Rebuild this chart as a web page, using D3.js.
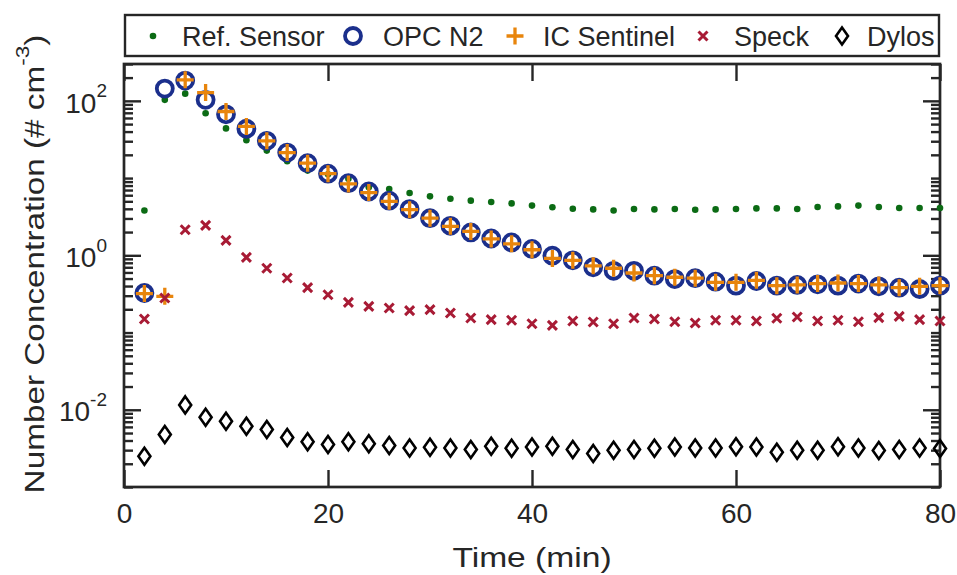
<!DOCTYPE html>
<html>
<head>
<meta charset="utf-8">
<script src="https://cdn.jsdelivr.net/npm/d3@7"></script>
<style>
  body { margin: 0; background: #fff; }
  text { font-family: "Liberation Sans", Arial, sans-serif; fill: #262626; }
</style>
</head>
<body>
<svg id="chart" width="957" height="575"></svg>
<script>
// time of each sample (min)
const times = [2, 4, 6, 8, 10, 12, 14, 16, 18, 20, 22, 24, 26, 28, 30, 32, 34, 36, 38, 40,
               42, 44, 46, 48, 50, 52, 54, 56, 58, 60, 62, 64, 66, 68, 70, 72, 74, 76, 78, 80];

const refSensor = [3.8, 103, 124, 69, 44, 31, 22.7, 16.5, 12.5, 11.2, 9.8, 7.6, 7.2, 6.4, 5.8, 5.4, 5.1, 4.9, 4.7, 4.4,
                   4.2, 4.0, 3.93, 3.81, 3.97, 3.93, 3.97, 3.89, 3.93, 3.97, 4.05, 4.05, 3.97, 4.22, 4.3, 4.4, 4.22, 4.09, 4.09, 4.09];
const opcN2 = [0.325, 144, 183, 103, 67, 43.5, 30.4, 21.4, 15.6, 11.4, 8.6, 6.7, 5.1, 3.97, 3.03, 2.41, 1.98, 1.65, 1.47, 1.21,
               0.99, 0.86, 0.70, 0.63, 0.63, 0.545, 0.493, 0.505, 0.456, 0.405, 0.465, 0.405, 0.413, 0.421, 0.405, 0.43, 0.397, 0.381, 0.366, 0.405];
const icSentinel = [0.32, 0.294, 187, 128, 72.8, 46.6, 30.4, 21.4, 15.6, 11.4, 8.4, 6.5, 5.0, 3.9, 3.03, 2.37, 2.04, 1.63, 1.41, 1.18,
                    0.91, 0.86, 0.73, 0.68, 0.59, 0.545, 0.52, 0.505, 0.447, 0.447, 0.474, 0.405, 0.413, 0.43, 0.438, 0.43, 0.413, 0.381, 0.397, 0.405];
const speck = [0.15, 0.28, 2.14, 2.44, 1.56, 0.94, 0.68, 0.508, 0.381, 0.309, 0.246, 0.218, 0.208, 0.192, 0.198, 0.179, 0.154, 0.147, 0.144, 0.130,
               0.124, 0.141, 0.137, 0.130, 0.154, 0.150, 0.138, 0.133, 0.144, 0.144, 0.141, 0.153, 0.159, 0.141, 0.144, 0.138, 0.156, 0.162, 0.147, 0.141];
const dylos = [0.00251, 0.00478, 0.01157, 0.0080, 0.0071, 0.00612, 0.00555, 0.00437, 0.00385, 0.00355, 0.00385, 0.00362, 0.00344, 0.00321, 0.00327, 0.00321, 0.00305, 0.00337, 0.00318, 0.0033,
               0.00337, 0.00305, 0.00271, 0.00299, 0.00305, 0.00318, 0.00329, 0.00321, 0.00319, 0.00331, 0.00329, 0.00282, 0.00299, 0.00299, 0.00331, 0.00321, 0.00297, 0.00305, 0.00321, 0.00316];

const xTicks = [0, 20, 40, 60, 80];
const yTickExps = [-2, 0, 2];
const seriesNames = ["Ref. Sensor", "OPC N2", "IC Sentinel", "Speck", "Dylos"];

const svg = d3.select("#chart");
const margin = { left: 124, right: 17, top: 64, bottom: 88 };
const W = 957, H = 575;
const iw = W - margin.left - margin.right;
const ih = H - margin.top - margin.bottom;
const axisColor = "#262626";

const x = d3.scaleLinear().domain([0, 80]).range([0, iw]);
const y = d3.scaleLog().domain([1e-3, 300]).range([ih, 0]);

const g = svg.append("g").attr("transform", `translate(${margin.left},${margin.top})`);

// minor log ticks 2..9 x 10^k plus unlabeled decades
const minorVals = [];
for (let k = -3; k <= 2; k++) {
    for (let m = 1; m <= 9; m++) {
        const v = m * Math.pow(10, k);
        if (v < 1e-3 || v > 300) continue;
        if (m === 1 && yTickExps.includes(k)) continue;
        minorVals.push(v);
    }
}
const majorVals = yTickExps.map(e => Math.pow(10, e));

function styleAxis(sel) {
    sel.select(".domain").remove();
    sel.selectAll(".tick line").attr("stroke", axisColor).attr("stroke-width", 2.4);
}

g.append("g").call(d3.axisLeft(y).tickValues(minorVals).tickSize(-9).tickFormat("")).call(styleAxis);
g.append("g").attr("transform", `translate(${iw},0)`)
    .call(d3.axisRight(y).tickValues(minorVals).tickSize(-9).tickFormat("")).call(styleAxis);
g.append("g").attr("transform", `translate(${iw},0)`)
    .call(d3.axisRight(y).tickValues(majorVals).tickSize(-17).tickFormat("")).call(styleAxis);

const yAxis = g.append("g")
    .call(d3.axisLeft(y).tickValues(majorVals).tickSize(-17).tickPadding(17).tickFormat(""))
    .call(styleAxis);
yAxis.selectAll(".tick text").each(function (d) {
    const t = d3.select(this)
        .attr("font-size", 28)
        .attr("dy", "0.4em");
    t.append("tspan").text("10");
    t.append("tspan").attr("font-size", 19).attr("dy", "-0.8em").text(Math.round(Math.log10(d)));
});

g.append("g").attr("transform", `translate(0,${ih})`)
    .call(d3.axisBottom(x).tickValues(xTicks).tickSize(-17).tickPadding(14))
    .call(styleAxis)
    .selectAll(".tick text").attr("font-size", 28).attr("dy", "0.71em").attr("y", 16);
g.append("g")
    .call(d3.axisTop(x).tickValues(xTicks).tickSize(-17).tickFormat(""))
    .call(styleAxis);

g.append("rect")
    .attr("width", iw).attr("height", ih)
    .attr("fill", "none").attr("stroke", axisColor).attr("stroke-width", 2.7);

// markers
const pts = arr => times.map((t, i) => ({ t, v: arr[i] }));
const plot = g.append("g");

function drawRef(sel, px, py) {
    sel.append("circle").attr("cx", px).attr("cy", py).attr("r", 3.3).attr("fill", "#0b6b14");
}
function drawOpc(sel, px, py) {
    sel.append("circle").attr("cx", px).attr("cy", py).attr("r", 8).attr("fill", "none")
        .attr("stroke", "#1b2f8c").attr("stroke-width", 3.8);
}
function drawIc(sel, px, py) {
    sel.append("path").attr("d", `M${px - 8.5},${py}H${px + 8.5}M${px},${py - 8.5}V${py + 8.5}`)
        .attr("stroke", "#e8850c").attr("stroke-width", 3.3);
}
function drawSpeck(sel, px, py) {
    const s = 4.5;
    sel.append("path").attr("d", `M${px - s},${py - s}L${px + s},${py + s}M${px - s},${py + s}L${px + s},${py - s}`)
        .attr("stroke", "#a81b35").attr("stroke-width", 3);
}
function drawDylos(sel, px, py) {
    sel.append("path").attr("d", `M${px},${py - 8.5}L${px + 6},${py}L${px},${py + 8.5}L${px - 6},${py}Z`)
        .attr("fill", "none").attr("stroke", "#000").attr("stroke-width", 2.6);
}

const series = [
    { data: refSensor, draw: drawRef },
    { data: opcN2, draw: drawOpc },
    { data: icSentinel, draw: drawIc },
    { data: speck, draw: drawSpeck },
    { data: dylos, draw: drawDylos }
];
series.forEach(s => {
    const layer = plot.append("g");
    pts(s.data).forEach(p => s.draw(layer, x(p.t), y(p.v)));
});

// axis titles (reference renders them a bit wider than the tick font)
svg.append("text")
    .attr("transform", `translate(${margin.left + iw / 2},567) scale(1.2,1)`)
    .attr("text-anchor", "middle").attr("font-size", 28)
    .text("Time (min)");

const yl = svg.append("text")
    .attr("transform", `translate(44,264) rotate(-90) scale(1.19,1)`)
    .attr("text-anchor", "middle").attr("font-size", 28);
yl.append("tspan").text("Number Concentration (# cm");
yl.append("tspan").attr("font-size", 19).attr("dy", "-0.8em").text("-3");
yl.append("tspan").attr("dy", "0.55em").text(")");

// legend
const legend = svg.append("g");
legend.append("rect")
    .attr("x", 125).attr("y", 15).attr("width", 814).attr("height", 41)
    .attr("fill", "#fff").attr("stroke", axisColor).attr("stroke-width", 2.4);
const legendMarkX = [153, 353, 515, 703, 842];
const legendTextX = [182, 383, 543, 734, 867];
const legendDraw = [drawRef, drawOpc, drawIc, drawSpeck, drawDylos];
seriesNames.forEach((name, i) => {
    legendDraw[i](legend, legendMarkX[i], 36);
    legend.append("text").attr("x", legendTextX[i]).attr("y", 45.5)
        .attr("font-size", 27).text(name);
});
</script>
</body>
</html>
